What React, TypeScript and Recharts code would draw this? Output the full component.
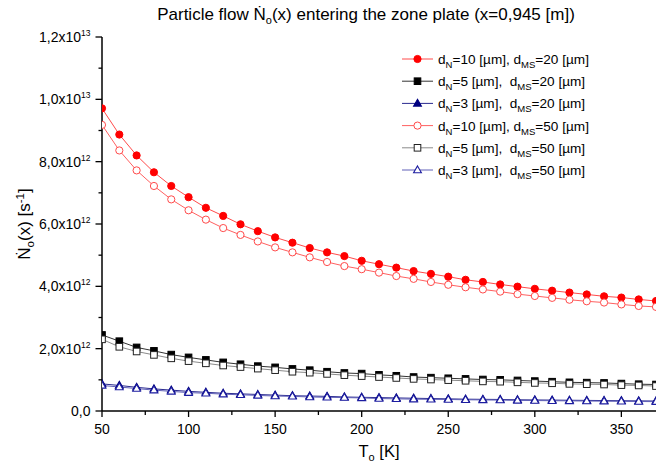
import React from 'react';
import { LineChart, Line, XAxis, YAxis } from 'recharts';

// Temperature T_o [K]
const temperatures = [50, 60, 70, 80, 90, 100, 110, 120, 130, 140, 150, 160, 170, 180, 190, 200, 210, 220,
  230, 240, 250, 260, 270, 280, 290, 300, 310, 320, 330, 340, 350, 360, 370];

// Particle flow values in units of 1e12 s^-1
const dN10_dMS20 = [9.71, 8.87, 8.20, 7.66, 7.22, 6.86, 6.52, 6.26, 5.99, 5.77, 5.57, 5.40, 5.23, 5.09, 4.97, 4.82, 4.71, 4.60,
  4.49, 4.40, 4.31, 4.21, 4.14, 4.06, 3.99, 3.92, 3.86, 3.80, 3.74, 3.68, 3.64, 3.58, 3.53];
const dN5_dMS20 = [2.44, 2.24, 2.04, 1.93, 1.81, 1.72, 1.64, 1.56, 1.50, 1.44, 1.40, 1.35, 1.31, 1.26, 1.22, 1.20, 1.16, 1.13,
  1.09, 1.07, 1.05, 1.03, 1.01, 1.00, 0.98, 0.96, 0.94, 0.92, 0.91, 0.90, 0.88, 0.86, 0.85];
const dN3_dMS20 = [0.87, 0.82, 0.76, 0.71, 0.67, 0.63, 0.60, 0.57, 0.55, 0.53, 0.51, 0.49, 0.48, 0.47, 0.45, 0.44, 0.43, 0.42,
  0.41, 0.40, 0.39, 0.38, 0.375, 0.37, 0.36, 0.355, 0.35, 0.345, 0.34, 0.335, 0.33, 0.325, 0.32];
const dN10_dMS50 = [9.18, 8.36, 7.72, 7.22, 6.79, 6.44, 6.14, 5.87, 5.65, 5.44, 5.25, 5.09, 4.93, 4.78, 4.65, 4.55, 4.44, 4.33,
  4.24, 4.14, 4.05, 3.97, 3.90, 3.83, 3.75, 3.69, 3.63, 3.57, 3.52, 3.48, 3.42, 3.37, 3.34];
const dN5_dMS50 = [2.30, 2.06, 1.91, 1.80, 1.69, 1.60, 1.53, 1.46, 1.41, 1.36, 1.31, 1.26, 1.23, 1.19, 1.15, 1.12, 1.09, 1.06,
  1.03, 1.01, 0.99, 0.97, 0.95, 0.94, 0.92, 0.90, 0.89, 0.87, 0.86, 0.85, 0.83, 0.82, 0.80];
const dN3_dMS50 = [0.82, 0.77, 0.72, 0.67, 0.63, 0.59, 0.57, 0.54, 0.52, 0.50, 0.48, 0.47, 0.45, 0.44, 0.43, 0.42, 0.40, 0.39,
  0.38, 0.375, 0.37, 0.36, 0.355, 0.35, 0.34, 0.335, 0.33, 0.325, 0.32, 0.315, 0.31, 0.305, 0.30];

const xTicks = [50, 75, 100, 125, 150, 175, 200, 225, 250, 275, 300, 325, 350];
const yTicks = [0, 1e12, 2e12, 3e12, 4e12, 5e12, 6e12, 7e12, 8e12, 9e12, 1e13, 1.1e13, 1.2e13];

// legend labels: d_N and d_MS values
const legendDN = ['10', '5', '3', '10', '5', '3'];
const legendDMS = ['20', '20', '20', '50', '50', '50'];

const SCALE = 1e12;
const data = temperatures.map((t, i) => ({
  T: t,
  s1: dN10_dMS20[i] * SCALE,
  s2: dN5_dMS20[i] * SCALE,
  s3: dN3_dMS20[i] * SCALE,
  s4: dN10_dMS50[i] * SCALE,
  s5: dN5_dMS50[i] * SCALE,
  s6: dN3_dMS50[i] * SCALE,
}));

const FONT = '"Liberation Sans", Arial, Helvetica, sans-serif';

type MarkerKind = 'circle' | 'square' | 'triangle';
interface SeriesStyle {
  key: string;
  line: string;
  marker: string;
  filled: boolean;
  kind: MarkerKind;
}

const seriesStyles: SeriesStyle[] = [
  { key: 's1', line: '#ff4a4a', marker: '#ff0000', filled: true, kind: 'circle' },
  { key: 's2', line: '#333333', marker: '#000000', filled: true, kind: 'square' },
  { key: 's3', line: '#2a2a90', marker: '#000080', filled: true, kind: 'triangle' },
  { key: 's4', line: '#ff6060', marker: '#ff4a4a', filled: false, kind: 'circle' },
  { key: 's5', line: '#8a8a8a', marker: '#222222', filled: false, kind: 'square' },
  { key: 's6', line: '#6060b8', marker: '#1c1ca0', filled: false, kind: 'triangle' },
];

function markerShape(kind: MarkerKind, cx: number, cy: number, color: string, filled: boolean, k?: any) {
  const fill = filled ? color : '#ffffff';
  if (kind === 'circle') {
    return <circle key={k} cx={cx} cy={cy} r={3.6} fill={fill} stroke={color} strokeWidth={1} />;
  }
  if (kind === 'square') {
    const s = 6.6;
    return <rect key={k} x={cx - s / 2} y={cy - s / 2} width={s} height={s} fill={fill} stroke={color} strokeWidth={1} />;
  }
  const h = 6.8;
  const w = 7.8;
  const pts = `${cx},${cy - h * 0.6} ${cx + w / 2},${cy + h * 0.4} ${cx - w / 2},${cy + h * 0.4}`;
  return <polygon key={k} points={pts} fill={fill} stroke={color} strokeWidth={1.1} />;
}

const makeDot = (st: SeriesStyle) => (props: any) => {
  const { cx, cy, index } = props;
  if (cx == null || cy == null) return <g key={`e-${st.key}-${index}`} />;
  return markerShape(st.kind, cx, cy, st.marker, st.filled, `d-${st.key}-${index}`);
};

function formatSci(v: number) {
  if (v === 0) return { mant: '0,0', exp: '' };
  const exp = Math.floor(Math.log10(v) + 1e-9);
  const mant = (v / Math.pow(10, exp)).toFixed(1).replace('.', ',');
  return { mant: `${mant}x10`, exp: String(exp) };
}

const YTick = (props: any) => {
  const { x, y, payload } = props;
  const v = payload.value as number;
  const k = Math.round(v / 1e12);
  const major = k % 2 === 0;
  const len = major ? 6.5 : 3.5;
  const f = formatSci(v);
  return (
    <g>
      <line x1={x - len} x2={x} y1={y} y2={y} stroke="#000" strokeWidth={1.3} />
      {major && (
        <text x={x - 11.5} y={y} dy={5} textAnchor="end" fontFamily={FONT} fontSize={14} fill="#000">
          {f.mant}
          {f.exp && (
            <tspan dy={-6} fontSize={8.5}>
              {f.exp}
            </tspan>
          )}
        </text>
      )}
    </g>
  );
};

const XTick = (props: any) => {
  const { x, y, payload } = props;
  const v = payload.value as number;
  const major = (v - 50) % 50 === 0;
  const len = major ? 6 : 4;
  return (
    <g>
      <line x1={x} x2={x} y1={y} y2={y + len} stroke="#000" strokeWidth={1.3} />
      {major && (
        <text x={x} y={y + 23} textAnchor="middle" fontFamily={FONT} fontSize={14} fill="#000">
          {v}
        </text>
      )}
    </g>
  );
};

const YLabel = (props: any) => {
  const vb = props.viewBox || { x: 0, y: 0, width: 0, height: 0 };
  const cx = 30;
  const cy = vb.y + vb.height / 2;
  return (
    <text
      x={cx}
      y={cy}
      transform={`rotate(-90 ${cx} ${cy})`}
      textAnchor="middle"
      fontFamily={FONT}
      fontSize={17}
      fill="#000"
    >
      Ṅ
      <tspan dy={4} fontSize={11.5}>o</tspan>
      <tspan dy={-4}>(x) [s</tspan>
      <tspan dy={-6} fontSize={11.5}>-1</tspan>
      <tspan dy={6}>]</tspan>
    </text>
  );
};

const XLabel = (props: any) => {
  const vb = props.viewBox || { x: 0, y: 0, width: 0, height: 0 };
  const cx = vb.x + vb.width / 2;
  return (
    <text x={cx} y={457} textAnchor="middle" fontFamily={FONT} fontSize={16.5} fill="#000">
      T
      <tspan dy={4} fontSize={11}>o</tspan>
      <tspan dy={-4}> [K]</tspan>
    </text>
  );
};

const Overlay = () => {
  const rowY0 = 59;
  const rowStep = 22.2;
  return (
    <svg
      width={656}
      height={470}
      style={{ position: 'absolute', left: 0, top: 0, pointerEvents: 'none' }}
    >
      <text x={366} y={20} textAnchor="middle" fontFamily={FONT} fontSize={17} fill="#000">
        Particle flow Ṅ
        <tspan dy={4} fontSize={11}>o</tspan>
        <tspan dy={-4}>(x) entering the zone plate (x=0,945 [m])</tspan>
      </text>
      {seriesStyles.map((st, i) => {
        const y = rowY0 + i * rowStep;
        const sep = legendDN[i].length === 1 ? ',\u00a0\u00a0d' : ', d';
        return (
          <g key={st.key}>
            <line x1={402} x2={433} y1={y} y2={y} stroke={st.line} strokeWidth={1} />
            {markerShape(st.kind, 417.5, y, st.marker, st.filled)}
            <text x={438} y={y + 5} fontFamily={FONT} fontSize={13.6} fill="#000">
              d
              <tspan dy={4} fontSize={9.5}>N</tspan>
              <tspan dy={-4}>{`=${legendDN[i]} [µm]${sep}`}</tspan>
              <tspan dy={4} fontSize={9.5}>MS</tspan>
              <tspan dy={-4}>{`=${legendDMS[i]} [µm]`}</tspan>
            </text>
          </g>
        );
      })}
    </svg>
  );
};

export default function App() {
  return (
    <div style={{ position: 'absolute', left: 0, top: 0, width: 656, height: 470, background: '#fff' }}>
      <LineChart
        width={656}
        height={470}
        data={data}
        margin={{ top: 37, right: 0, bottom: 0, left: 0 }}
        style={{ background: '#fff' }}
      >
        <XAxis
          dataKey="T"
          type="number"
          domain={[50, 370]}
          allowDataOverflow
          ticks={xTicks}
          interval={0}
          height={59}
          tickSize={0}
          tickMargin={0}
          tick={<XTick />}
          axisLine={{ stroke: '#000', strokeWidth: 1.5 }}
          tickLine={false}
          label={<XLabel />}
        />
        <YAxis
          type="number"
          domain={[0, 1.2e13]}
          allowDataOverflow
          ticks={yTicks}
          interval={0}
          width={102}
          tickSize={0}
          tickMargin={0}
          tick={<YTick />}
          axisLine={{ stroke: '#000', strokeWidth: 1.5 }}
          tickLine={false}
          label={<YLabel />}
        />
        {seriesStyles.map((st) => (
          <Line
            key={st.key}
            dataKey={st.key}
            type="linear"
            stroke={st.line}
            strokeWidth={1}
            dot={makeDot(st)}
            activeDot={false}
            isAnimationActive={false}
          />
        ))}
      </LineChart>
      <Overlay />
    </div>
  );
}
